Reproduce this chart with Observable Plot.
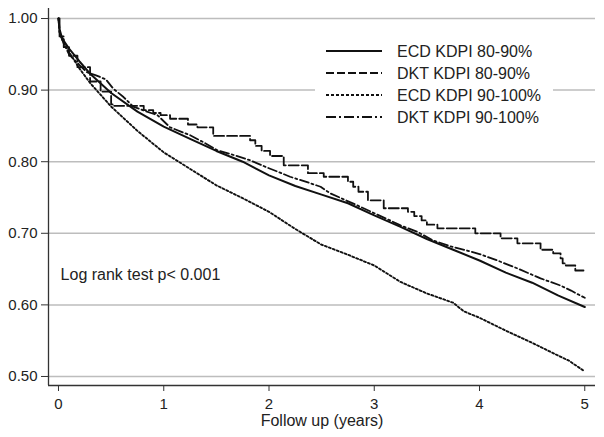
<!DOCTYPE html>
<html><head><meta charset="utf-8">
<script src="https://cdn.jsdelivr.net/npm/d3@7"></script>
<script src="https://cdn.jsdelivr.net/npm/@observablehq/plot@0.6"></script>
<style>
body{margin:0;background:#fff;}
#wrap{position:relative;width:604px;height:437px;font-family:"Liberation Sans",Arial,sans-serif;}
#legend{position:absolute;left:315px;top:38px;width:238px;height:92px;background:#fff;}
#legend text{font-family:"Liberation Sans",Arial,sans-serif;font-size:16px;fill:#222;}
</style></head><body><div id="wrap"></div>
<script>
// ---- data ----
const seriesNames = ["ECD KDPI 80-90%", "DKT KDPI 80-90%", "ECD KDPI 90-100%", "DKT KDPI 90-100%"];
const ecd8090 = [[0,1.0],[0.01,0.985],[0.03,0.975],[0.05,0.969],[0.1,0.958],[0.2,0.94],[0.3,0.923],[0.5,0.896],[0.75,0.87],[1.0,0.849],[1.25,0.832],[1.5,0.815],[1.75,0.80],[2.0,0.781],[2.25,0.766],[2.5,0.754],[2.75,0.742],[3.0,0.725],[3.25,0.709],[3.5,0.692],[3.75,0.677],[4.0,0.662],[4.25,0.645],[4.5,0.631],[4.75,0.613],[5.0,0.597]];
const dkt8090 = [[0,1.0],[0.01,0.975],[0.05,0.96],[0.1,0.948],[0.18,0.932],[0.3,0.912],[0.4,0.898],[0.5,0.88],[0.52,0.878],[0.81,0.872],[0.9,0.868],[0.97,0.865],[1.06,0.86],[1.23,0.852],[1.32,0.848],[1.47,0.836],[1.82,0.83],[1.87,0.822],[1.93,0.815],[2.01,0.808],[2.14,0.795],[2.37,0.784],[2.52,0.779],[2.75,0.772],[2.8,0.765],[2.85,0.758],[2.94,0.746],[3.09,0.735],[3.32,0.73],[3.38,0.724],[3.45,0.718],[3.5,0.712],[3.6,0.707],[3.96,0.70],[4.2,0.693],[4.36,0.686],[4.58,0.677],[4.7,0.672],[4.77,0.665],[4.79,0.658],[4.82,0.655],[4.91,0.648],[5.0,0.648]];
const ecd90100 = [[0,1.0],[0.01,0.982],[0.03,0.972],[0.05,0.966],[0.1,0.953],[0.2,0.93],[0.3,0.91],[0.5,0.877],[0.75,0.843],[1.0,0.813],[1.25,0.79],[1.5,0.767],[1.75,0.749],[2.0,0.73],[2.25,0.706],[2.5,0.684],[2.75,0.67],[3.0,0.655],[3.25,0.632],[3.5,0.616],[3.75,0.603],[3.85,0.591],[4.0,0.582],[4.25,0.564],[4.5,0.547],[4.75,0.529],[4.85,0.522],[5.0,0.507]];
const dkt90100 = [[0,1.0],[0.01,0.98],[0.05,0.965],[0.1,0.95],[0.2,0.935],[0.27,0.925],[0.35,0.921],[0.45,0.915],[0.52,0.902],[0.62,0.89],[0.71,0.877],[0.8,0.872],[0.94,0.865],[1.06,0.848],[1.25,0.837],[1.38,0.827],[1.51,0.816],[1.65,0.81],[1.82,0.802],[1.98,0.792],[2.1,0.785],[2.2,0.779],[2.37,0.771],[2.49,0.765],[2.58,0.756],[2.7,0.748],[2.84,0.739],[3.0,0.728],[3.15,0.718],[3.25,0.711],[3.41,0.702],[3.56,0.69],[3.72,0.682],[3.88,0.676],[4.0,0.671],[4.17,0.662],[4.36,0.651],[4.58,0.637],[4.77,0.627],[4.87,0.62],[4.92,0.616],[5.0,0.61]];
const xTicks = [0, 1, 2, 3, 4, 5];
const yTicks = [0.5, 0.6, 0.7, 0.8, 0.9, 1.0];
const xLabel = "Follow up (years)";
const annotation = [{t: 0.02, s: 0.642, text: "Log rank test p< 0.001"}];

// ---- styles ----
const styles = [
  {dash: null, width: 2.0, curve: "linear", legendDash: null},
  {dash: "10,3", width: 1.8, curve: "step-after", legendDash: "8,3"},
  {dash: "2,2.2", width: 1.9, curve: "linear", legendDash: "3,2"},
  {dash: "9,3,2,3", width: 1.8, curve: "linear", legendDash: "10,3,2,3"}
];
const seriesData = [ecd8090, dkt8090, ecd90100, dkt90100].map((arr, i) => arr.map(([t, s]) => ({t, s, series: seriesNames[i]})));

const xDomain = [-0.095, 5.102];
const yDomain = [0.4874, 1.014];

const lineMarks = seriesData.map((d, i) => Plot.line(d, {
  x: "t", y: "s", stroke: "#111", strokeWidth: styles[i].width,
  strokeDasharray: styles[i].dash, curve: styles[i].curve
}));

const chart = Plot.plot({
  width: 604, height: 437,
  marginLeft: 48, marginRight: 9, marginTop: 8, marginBottom: 52,
  style: {fontFamily: '"Liberation Sans", Arial, sans-serif', color: "#222", background: "#fff"},
  x: {domain: xDomain},
  y: {domain: yDomain},
  marks: [
    Plot.gridY(yTicks, {stroke: "#bdbdbd", strokeOpacity: 1, strokeWidth: 1.5}),
    Plot.ruleX([xDomain[0]], {stroke: "#333", strokeWidth: 1.3}),
    Plot.ruleY([yDomain[0]], {stroke: "#333", strokeWidth: 1.3}),
    Plot.axisY(yTicks, {tickFormat: d3.format(".2f"), tickSize: 7, tickPadding: 4, fontSize: 15, label: null, stroke: "#333"}),
    Plot.axisX(xTicks, {tickFormat: d3.format("d"), tickSize: 6, tickPadding: 7, fontSize: 15, label: null, stroke: "#333"}),
    ...lineMarks,
    Plot.text(annotation, {x: "t", y: "s", text: "text", textAnchor: "start", fontSize: 16, fill: "#222"}),
    Plot.text([xLabel], {frameAnchor: "bottom", dy: 40, fontSize: 16, fill: "#222"})
  ]
});
const wrap = document.getElementById("wrap");
wrap.appendChild(chart);

// ---- legend overlay ----
const leg = d3.select(wrap).append("div").attr("id", "legend")
  .append("svg").attr("width", 238).attr("height", 92);
seriesNames.forEach((name, i) => {
  const cy = 13 + i * 22;
  leg.append("line").attr("x1", 11).attr("x2", 67).attr("y1", cy).attr("y2", cy)
    .attr("stroke", "#111").attr("stroke-width", i === 0 ? 2 : 1.8)
    .attr("stroke-dasharray", styles[i].legendDash);
  leg.append("text").attr("x", 82).attr("y", cy).attr("dy", "0.35em").text(name);
});
</script></body></html>
